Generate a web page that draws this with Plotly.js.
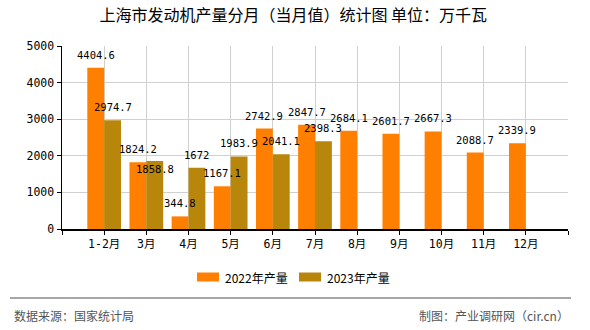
<!DOCTYPE html>
<html><head><meta charset="utf-8">
<script src="https://cdn.plot.ly/plotly-3.0.1.min.js"></script>
<style>body{margin:0;padding:0;background:#fff}#chart{width:590px;height:330px}</style>
</head><body><div id="chart"></div>
<script>
const categories = ["1-2月","3月","4月","5月","6月","7月","8月","9月","10月","11月","12月"];
const values2022 = [4404.6,1824.2,344.8,1167.1,2742.9,2847.7,2684.1,2601.7,2667.3,2088.7,2339.9];
const values2023 = [2974.7,1858.8,1672,1983.9,2041.1,2398.3,null,null,null,null,null];
const seriesNames = ["2022年产量","2023年产量"];
const seriesColors = ["#FF8000","#B8860B"];
const yTicks = [0,1000,2000,3000,4000,5000];

const xs = categories.map((c,i)=>i);
const numFont = "DejaVu Sans Mono, Noto Sans CJK SC, monospace";
const cjkFont = "Noto Sans CJK SC";
const allSeries = [values2022, values2023];

const traces = allSeries.map((vals,k)=>({
  type:"bar", name:seriesNames[k], x:xs, y:vals, marker:{color:seriesColors[k]},
  hoverinfo:"none", showlegend:false
}));

// value labels placed through the data axes (bar centers of a 2-bar group, bargap 0.2)
const annotations = [];
allSeries.forEach((vals,k)=>{
  const off = k===0 ? -0.2 : 0.2;
  vals.forEach((v,i)=>{
    if(v==null) return;
    // avoid collision with the neighbouring label of the same month
    let shift = 5;
    if(k===1 && values2022[i]!=null && Math.abs(v - values2022[i]) < 300) shift = -16;
    annotations.push({xref:"x", yref:"y", x:xs[i]+off, y:v, text:String(v), showarrow:false,
      xanchor:"center", yanchor:"bottom", yshift:shift,
      font:{family:numFont, size:10.5, color:"#000"}});
  });
});

// legend (swatch + label) drawn below the plot
const shapes = [];
const legendX = [[0.2668,0.3103,0.3182],[0.4684,0.5119,0.5198]];
seriesNames.forEach((n,k)=>{
  shapes.push({type:"rect", xref:"paper", yref:"paper", x0:legendX[k][0], x1:legendX[k][1],
    y0:-0.2869, y1:-0.2377, fillcolor:seriesColors[k], line:{width:0}});
  annotations.push({xref:"paper", yref:"paper", x:legendX[k][2], y:-0.2623, xanchor:"left", yanchor:"middle",
    showarrow:false, text:n, font:{family:cjkFont, size:12, color:"#000"}});
});
shapes.push({type:"line", xref:"paper", yref:"paper", x0:-0.1028, x1:1.006, y0:-0.377, y1:-0.377,
  line:{color:"#888", width:1.5}});
annotations.push({xref:"paper", yref:"paper", x:-0.0988, y:-0.47, xanchor:"left", yanchor:"middle", showarrow:false,
  text:"数据来源：国家统计局", font:{family:cjkFont, size:12, color:"#555"}});
annotations.push({xref:"paper", yref:"paper", x:1.006, y:-0.47, xanchor:"right", yanchor:"middle", showarrow:false,
  text:"制图：产业调研网（cir.cn）", font:{family:cjkFont, size:12, color:"#555"}});

const tickvals = [-1].concat(xs, [categories.length]);
const ticktext = [""].concat(categories, [""]);

const layout = {
  width:590, height:330,
  margin:{l:62, r:22, t:46, b:101},
  paper_bgcolor:"#fff", plot_bgcolor:"#fff",
  title:{text:"上海市发动机产量分月（当月值）统计图 单位：万千瓦", x:0.497, xanchor:"center", y:0.952, yanchor:"middle",
         font:{family:cjkFont, size:16, color:"#000"}},
  barmode:"group", bargap:0.2, bargroupgap:0,
  showlegend:false,
  xaxis:{range:[-1, categories.length], tickvals:tickvals, ticktext:ticktext,
         showgrid:true, gridcolor:"#d0d0d0", gridwidth:1, zeroline:false,
         showline:true, linecolor:"#000", linewidth:1.5, ticks:"outside", ticklen:4, tickcolor:"#000",
         tickfont:{family:numFont, size:11.5, color:"#000"}, fixedrange:true},
  yaxis:{range:[0,5000], tickvals:yTicks, showgrid:true, gridcolor:"#d0d0d0", gridwidth:1, zeroline:false,
         showline:true, linecolor:"#000", linewidth:1.5, ticks:"outside", ticklen:4, tickcolor:"#000",
         tickfont:{family:numFont, size:11.5, color:"#000"}, fixedrange:true},
  shapes:shapes,
  annotations:annotations
};
Plotly.newPlot("chart", traces, layout, {displayModeBar:false, staticPlot:true});
</script></body></html>
